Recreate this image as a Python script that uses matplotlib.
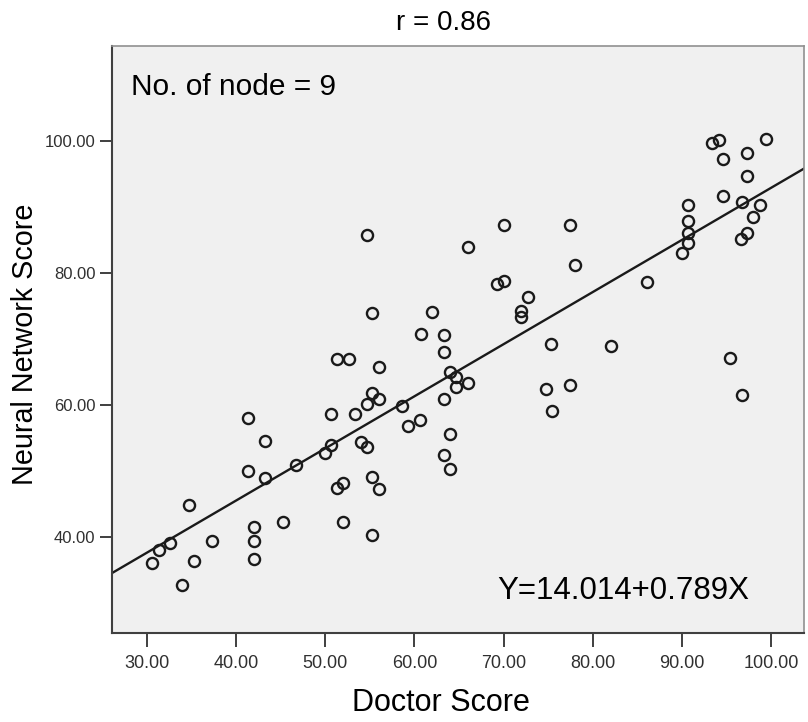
import numpy as np
import matplotlib
matplotlib.use("Agg")
import matplotlib.pyplot as plt

plt.rcParams['font.family'] = ['Liberation Sans', 'DejaVu Sans']

# punten
doctor = [30.6, 31.4, 32.6, 34.0, 34.7, 35.3, 37.35, 41.3, 41.3, 42.0,
          42.0, 42.0, 43.3, 43.3, 45.3, 46.7, 50.0, 50.66, 50.66, 51.3,
          52.7, 51.3, 52.0, 52.0, 53.3, 54.0, 54.66, 54.66, 54.66, 55.3,
          55.3, 55.3, 55.3, 56.0, 56.0, 56.0, 58.66, 59.3, 60.6, 60.7,
          62.0, 63.3, 63.3, 63.3, 63.3, 64.0, 64.7, 64.7, 64.0, 64.0,
          66.05, 66.05, 69.3, 70.0, 70.0, 72.0, 72.0, 72.7, 74.7, 75.3,
          75.4, 77.4, 77.4, 78.0, 82.0, 86.05, 90.0, 90.7, 90.7, 90.7,
          90.7, 93.3, 94.1, 94.6, 94.6, 95.4, 96.6, 96.7, 96.7, 97.3,
          97.3, 97.3, 98.0, 98.7, 99.4]
network = [36.2, 38.1, 39.1, 32.8, 44.9, 36.5, 39.4, 58.05, 50.1, 41.65,
           39.4, 36.7, 54.66, 49.0, 42.4, 50.9, 52.75, 54.0, 58.6, 66.97,
           66.97, 47.45, 48.2, 42.4, 58.6, 54.5, 53.66, 60.2, 85.78, 73.9,
           61.8, 49.1, 40.4, 65.85, 61.0, 47.35, 59.9, 56.8, 57.8, 70.85,
           74.1, 70.6, 68.0, 61.0, 52.4, 65.0, 64.3, 62.7, 55.7, 50.3,
           63.4, 83.9, 78.3, 78.8, 87.2, 74.3, 73.4, 76.4, 62.5, 69.3,
           59.15, 87.2, 63.1, 81.2, 69.0, 78.7, 83.1, 84.5, 86.0, 87.9,
           90.3, 99.75, 100.15, 97.2, 91.7, 67.1, 85.2, 90.7, 61.6, 98.1,
           94.7, 86.0, 88.55, 90.3, 100.25]

# regressielijn
intercept = 14.014
slope = 0.789

xticks = [30, 40, 50, 60, 70, 80, 90, 100]
yticks = [40, 60, 80, 100]

fig = plt.figure(figsize=(8.08, 7.22), dpi=100)
ax = fig.add_axes([0.1386, 0.1229, 0.8568, 0.8138])
ax.set_facecolor('#f0f0f0')

xmin, xmax = 26.1, 103.7
ax.set_xlim(xmin, xmax)
ax.set_ylim(25.5, 114.4)

xl = np.array([xmin, xmax])
ax.plot(xl, intercept + slope * xl, color='#1a1a1a', lw=1.7, zorder=2)
ax.plot(doctor, network, 'o', ms=8, mfc='none', mec='#1a1a1a', mew=1.7, zorder=3)

ax.set_xticks(xticks)
ax.set_xticklabels(['%.2f' % t for t in xticks])
ax.set_yticks(yticks)
ax.set_yticklabels(['%.2f' % t for t in yticks])
ax.tick_params(axis='x', length=10, width=1.3, pad=6, labelsize=13, colors='#303030')
ax.tick_params(axis='y', length=9, width=1.3, pad=3, labelsize=12, colors='#303030')

for s in ['left', 'bottom']:
    ax.spines[s].set_color('#404040')
    ax.spines[s].set_linewidth(1.5)
for s in ['top', 'right']:
    ax.spines[s].set_color('#909090')
    ax.spines[s].set_linewidth(1.2)

ax.text(0.027, 0.93, 'No. of node = 9', transform=ax.transAxes,
        fontsize=21.5, va='center', ha='left')
ax.text(0.557, 0.072, 'Y=14.014+0.789X', transform=ax.transAxes,
        fontsize=22.5, va='center', ha='left')

fig.text(443 / 808, 1 - 23 / 722, 'r = 0.86', fontsize=20, ha='center', va='center')
fig.text(441 / 808, 1 - 703 / 722, 'Doctor Score', fontsize=22, ha='center', va='center')
fig.text(25 / 808, 1 - 344 / 722, 'Neural Network Score', fontsize=20.7,
         ha='center', va='center', rotation=90)

fig.savefig('out.png', dpi=100)
